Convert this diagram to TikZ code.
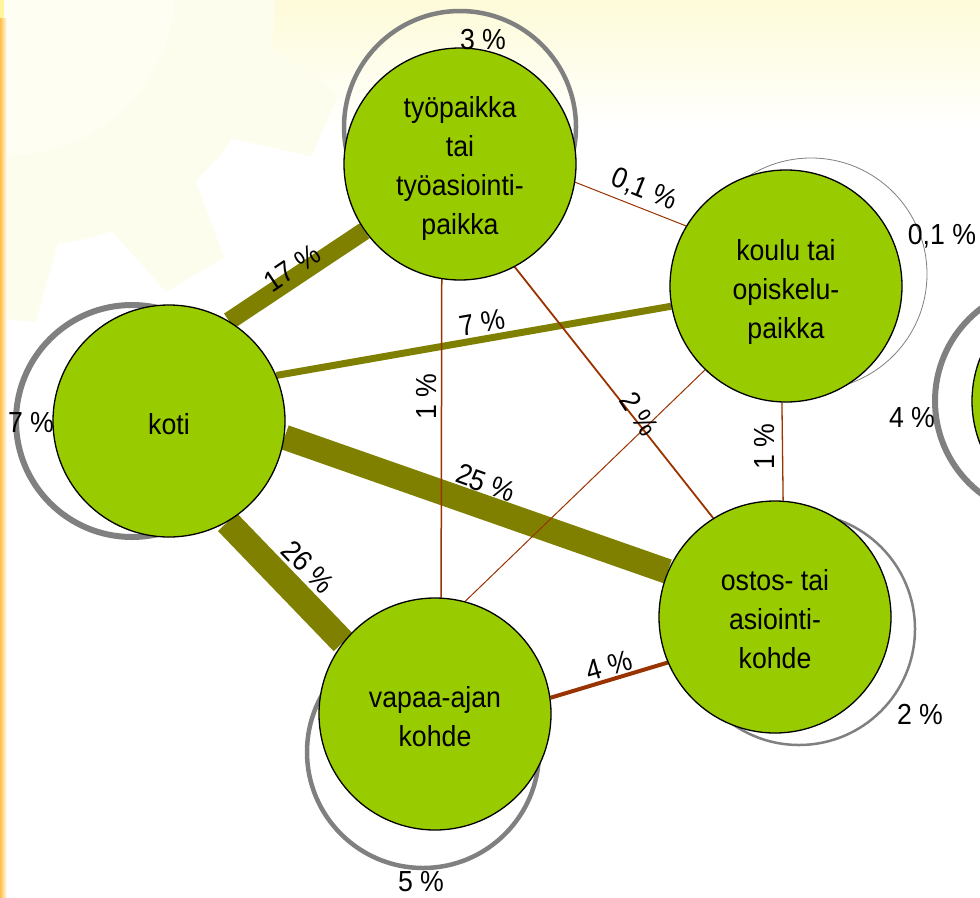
\documentclass[tikz,border=0pt]{standalone}
\usepackage{fontspec}
\setmainfont[FakeStretch=0.92]{Liberation Sans}
\usetikzlibrary{calc}
\pgfdeclarelayer{bg}
\pgfdeclarelayer{edges}
\pgfsetlayers{bg,edges,main}
\definecolor{nodegreen}{HTML}{99CC00}
\definecolor{olivec}{HTML}{808000}
\definecolor{brownc}{HTML}{993300}
\definecolor{loopgray}{HTML}{808080}
\definecolor{creamc}{HTML}{FDFBD8}
\definecolor{gearc}{HTML}{FDFDED}
\definecolor{orangeline}{HTML}{FFBF45}
\definecolor{yellowtop}{HTML}{FFF59A}
\newcommand{\diagfont}{\fontsize{29}{39}\selectfont}
\tikzset{
  place/.style={circle, draw=black, line width=1.3pt, fill=nodegreen,
    minimum size=232pt, inner sep=0pt},
  placetext/.style={inner sep=0pt, align=center, font=\diagfont},
  homeedge/.style={draw=olivec},
  otheredge/.style={draw=brownc},
  selfloop/.style={draw=loopgray},
  pct/.style={inner sep=0pt, font=\diagfont}
}
\begin{document}
\begin{tikzpicture}[x=1pt,y=-1pt]
\useasboundingbox (0,0) rectangle (980,897);
\clip (0,0) rectangle (980,897);
% background
\begin{pgfonlayer}{bg}
  \fill[white] (0,0) rectangle (980,897);
  \shade[top color=creamc, bottom color=white] (0,0) rectangle (980,130);
  \fill[gearc] (30,0) circle[radius=245];
  \foreach \a in {23,59,...,347}
    \fill[gearc] ($(30,0)+(\a-12:240)$) -- ($(30,0)+(\a-6:322)$)
      -- ($(30,0)+(\a+6:322)$) -- ($(30,0)+(\a+12:240)$) -- cycle;
  \fill[white!70!creamc] (10,-10) circle[radius=165];
  \shade[left color=orangeline, right color=white] (0,18) rectangle (7,897);
  \fill[yellowtop] (0,0) rectangle (4,18);
\end{pgfonlayer}
% places
\node[place] (tyo) at (460,164) {};
\node[place] (koulu) at (786,286) {};
\node[place] (koti) at (169,421) {};
\node[place] (vapaa) at (435,714) {};
\node[place] (ostos) at (775,617) {};
\node[place] (muu) at (1088,401) {};
\node[placetext] (tyot) at ([yshift=-4.5pt]tyo.center) {työpaikka\\tai\\työasiointi-\\paikka};
\node[placetext] (koulut) at ([yshift=-5.5pt]koulu.center) {koulu tai\\opiskelu-\\paikka};
\node[placetext] (kotit) at ([yshift=-3pt]koti.center) {koti};
\node[placetext] (vapaat) at ([yshift=-3pt]vapaa.center) {vapaa-ajan\\kohde};
\node[placetext] (ostost) at ([yshift=-2pt]ostos.center) {ostos- tai\\asiointi-\\kohde};
\begin{pgfonlayer}{edges}
  % self loops
  \draw[selfloop, line width=6pt] ([shift={(-37,0)}]koti.center) circle[radius=116];
  \draw[selfloop, line width=4.5pt] ([shift={(0,-37)}]tyo.center) circle[radius=116];
  \draw[selfloop, line width=0.8pt] ([shift={(25,-12)}]koulu.center) circle[radius=116];
  \draw[selfloop, line width=2.5pt] ([shift={(24,12)}]ostos.center) circle[radius=116];
  \draw[selfloop, line width=4.5pt] ([shift={(-12,38)}]vapaa.center) circle[radius=116];
  \draw[selfloop, line width=6pt] ([shift={(-37,0)}]muu.center) circle[radius=116];
  % home edges
  \draw[homeedge, line width=18pt] (koti.59) -- (tyo.215);
  \draw[homeedge, line width=7pt] (koti.23) -- (koulu.190);
  \draw[homeedge, line width=25pt] (koti.-8) -- (ostos.157);
  \draw[homeedge, line width=26pt] (koti.-60) -- (vapaa.142);
  % other edges
  \draw[otheredge, line width=1pt] (tyo.-9) -- (koulu.149);
  \draw[otheredge, line width=1.5pt] (tyo.-99) -- (vapaa.87);
  \draw[otheredge, line width=1.8pt] (tyo.-62) -- (ostos.122);
  \draw[otheredge, line width=1pt] (koulu.-134) -- (vapaa.75);
  \draw[otheredge, line width=1.3pt] (koulu.-92) -- (ostos.86.5);
  \draw[otheredge, line width=4pt] (vapaa.8) -- (ostos.203);
\end{pgfonlayer}
% edge labels
\node[pct, rotate=34] (l17) at (292,268) {17 \%};
\node[pct, rotate=10] (l7) at (482,323) {7 \%};
\node[pct, rotate=-20] (l25) at (486,483) {25 \%};
\node[pct, rotate=-46] (l26) at (308,567) {26 \%};
\node[pct, rotate=-22] (l01) at (644,190) {0,1 \%};
\node[pct, rotate=90] (l1a) at (427,397) {1 \%};
\node[pct, rotate=-57] (l2) at (639,414) {2 \%};
\node[pct, rotate=90] (l1b) at (765,447) {1 \%};
\node[pct, rotate=16] (l4) at (609,666) {4 \%};
% loop labels
\node[pct] (s3) at (483,40) {3 \%};
\node[pct] (s01) at (942,236) {0,1 \%};
\node[pct] (s7) at (31,423) {7 \%};
\node[pct] (s4) at (912,418) {4 \%};
\node[pct] (s2) at (920,714) {2 \%};
\node[pct] (s5) at (421,882) {5 \%};
\end{tikzpicture}
\end{document}
